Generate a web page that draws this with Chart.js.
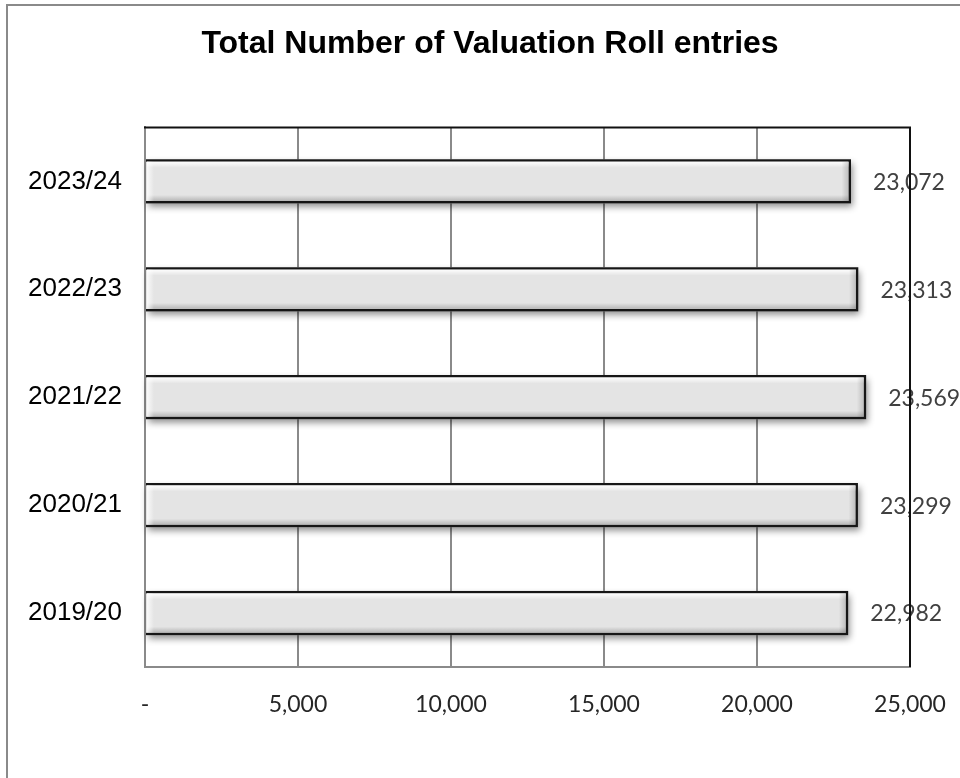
<!DOCTYPE html>
<html>
<head>
<meta charset="utf-8">
<title>Total Number of Valuation Roll entries</title>
<script src="https://cdn.jsdelivr.net/npm/chart.js@4.4.1/dist/chart.umd.min.js"></script>
<style>
    html, body { margin: 0; padding: 0; background: #fff; }
    #wrap { width: 960px; height: 778px; }
</style>
</head>
<body>
<div id="wrap"><canvas id="rollChart" width="960" height="778"></canvas></div>
<script>
// data
const years = ['2019/20', '2020/21', '2021/22', '2022/23', '2023/24'];
const entries = [22982, 23299, 23569, 23313, 23072];
const xTicks = [0, 5000, 10000, 15000, 20000, 25000];

const BORDER = 2.5;

// rectangle of a bar element (horizontal bars)
function barRect(bar) {
    const half = bar.height / 2;
    return { left: Math.min(bar.base, bar.x), right: Math.max(bar.base, bar.x), top: bar.y - half, bottom: bar.y + half };
}

const decorPlugin = {
    id: 'decor',
    afterLayout(chart) {
        // the title sits a little right of the canvas centre
        if (chart.titleBlock) {
            chart.titleBlock.left += 25;
            chart.titleBlock.right += 25;
        }
    },
    beforeDraw(chart) {
        // white page with a grey frame on the left and top
        const ctx = chart.ctx;
        ctx.save();
        ctx.fillStyle = '#fff';
        ctx.fillRect(0, 0, chart.width, chart.height);
        ctx.strokeStyle = '#8a8a8a';
        ctx.lineWidth = 2;
        ctx.beginPath();
        ctx.moveTo(7, chart.height + 5);
        ctx.lineTo(7, 5);
        ctx.lineTo(chart.width + 5, 5);
        ctx.stroke();
        ctx.restore();
    },
    beforeDatasetsDraw(chart) {
        // soft drop shadow under each bar
        const ctx = chart.ctx;
        ctx.save();
        ctx.shadowColor = 'rgba(0,0,0,0.45)';
        ctx.shadowBlur = 7;
        ctx.shadowOffsetX = 2;
        ctx.shadowOffsetY = 4;
        ctx.fillStyle = '#888';
        chart.getDatasetMeta(0).data.forEach(bar => {
            const r = barRect(bar);
            ctx.fillRect(r.left, r.top, r.right - r.left, r.bottom - r.top);
        });
        ctx.restore();
    },
    afterDatasetsDraw(chart) {
        const ctx = chart.ctx;
        ctx.save();

        // bevel: light top/left, darker bottom/right inside the border
        chart.getDatasetMeta(0).data.forEach(bar => {
            const r = barRect(bar);
            const l = r.left + 1, t = r.top + BORDER, rr = r.right - BORDER, b = r.bottom - BORDER;
            let g = ctx.createLinearGradient(0, t, 0, t + 6);
            g.addColorStop(0, 'rgba(255,255,255,0.95)');
            g.addColorStop(1, 'rgba(255,255,255,0)');
            ctx.fillStyle = g;
            ctx.fillRect(l, t, rr - l, 6);

            g = ctx.createLinearGradient(0, b - 6, 0, b);
            g.addColorStop(0, 'rgba(0,0,0,0)');
            g.addColorStop(1, 'rgba(0,0,0,0.2)');
            ctx.fillStyle = g;
            ctx.fillRect(l, b - 6, rr - l, 6);

            g = ctx.createLinearGradient(rr - 7, 0, rr, 0);
            g.addColorStop(0, 'rgba(0,0,0,0)');
            g.addColorStop(1, 'rgba(0,0,0,0.16)');
            ctx.fillStyle = g;
            ctx.fillRect(rr - 7, t, 7, b - t);

            g = ctx.createLinearGradient(l, 0, l + 7, 0);
            g.addColorStop(0, 'rgba(255,255,255,0.8)');
            g.addColorStop(1, 'rgba(255,255,255,0)');
            ctx.fillStyle = g;
            ctx.fillRect(l, t, 7, b - t);
        });

        // value labels
        ctx.font = '23px Lato';
        ctx.fillStyle = '#404040';
        ctx.textAlign = 'left';
        ctx.textBaseline = 'middle';
        chart.getDatasetMeta(0).data.forEach((bar, i) => {
            ctx.fillText(entries[i].toLocaleString('en-US'), bar.x + 22, bar.y + 1);
        });

        // top and right edge of the plot in black
        const a = chart.chartArea;
        ctx.strokeStyle = '#111';
        ctx.lineWidth = 2;
        ctx.beginPath();
        ctx.moveTo(a.left - 1, a.top);
        ctx.lineTo(a.right, a.top);
        ctx.lineTo(a.right, a.bottom);
        ctx.stroke();
        ctx.restore();
    }
};

const ctx = document.getElementById('rollChart').getContext('2d');
new Chart(ctx, {
    type: 'bar',
    data: {
        labels: years,
        datasets: [{
            data: entries,
            backgroundColor: '#e4e4e4',
            borderColor: '#161616',
            borderWidth: BORDER,
            borderSkipped: 'start',
            categoryPercentage: 1,
            barPercentage: 0.41
        }]
    },
    options: {
        indexAxis: 'y',
        responsive: false,
        animation: false,
        layout: { padding: { left: 20, right: 50, top: 0, bottom: 0 } },
        plugins: {
            legend: { display: false },
            tooltip: { enabled: false },
            title: {
                display: true,
                text: 'Total Number of Valuation Roll entries',
                color: '#000',
                font: { family: '"Liberation Sans", Arial', size: 32, weight: 'bold', lineHeight: 1.2 },
                padding: { top: 25, bottom: 64 }
            }
        },
        scales: {
            x: {
                min: 0,
                max: 25000,
                afterBuildTicks(axis) {
                    axis.ticks = xTicks.map(v => ({ value: v }));
                },
                afterFit(axis) {
                    axis.height = 111;
                    axis.paddingLeft = 0;
                    axis.paddingRight = 0;
                },
                grid: { color: '#8a8a8a', lineWidth: 2, drawTicks: false },
                border: { color: '#8a8a8a', width: 2 },
                ticks: {
                    padding: 24,
                    color: '#262626',
                    font: { family: 'Lato', size: 23 },
                    callback: v => (v === 0 ? '-' : v.toLocaleString('en-US'))
                }
            },
            y: {
                reverse: true,
                afterFit(axis) { axis.width = 125; },
                grid: { display: false, drawTicks: false },
                border: { color: '#8a8a8a', width: 2 },
                ticks: {
                    padding: 23,
                    color: '#000',
                    font: { family: '"Liberation Sans", Arial', size: 26 }
                }
            }
        }
    },
    plugins: [decorPlugin]
});
</script>
</body>
</html>
